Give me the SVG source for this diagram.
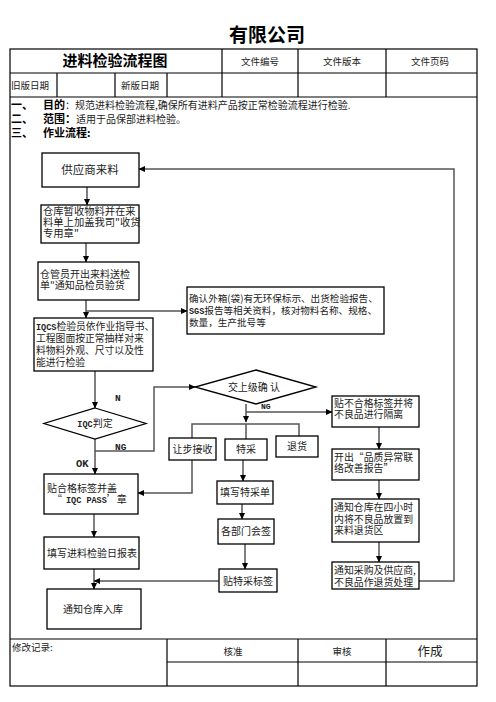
<svg xmlns="http://www.w3.org/2000/svg" width="496" height="702" viewBox="0 0 496 702">
<style>
.t{font-family:"Noto Sans CJK SC","Noto Sans",sans-serif;fill:#222}
.m{font-family:"Liberation Mono","Noto Sans CJK SC",monospace;font-weight:bold}
.b{font-weight:bold;fill:#000}
.c{text-anchor:middle}
.box{fill:#fff;stroke:#000;stroke-width:1.3}
.grid{fill:none;stroke:#000;stroke-width:1.2}
.ln{fill:none;stroke:#555;stroke-width:1.5}
</style>
<defs>
<marker id="ar" markerUnits="userSpaceOnUse" markerWidth="7" markerHeight="7" refX="6" refY="3.5" orient="auto">
<path d="M0,0.5 L6.5,3.5 L0,6.5 Z" fill="#000"/>
</marker>
</defs>
<rect width="496" height="702" fill="#fff"/>
<g id="header">
<text class="t b c" x="267" y="42" font-size="19">有限公司</text>
<rect class="grid" x="10" y="49" width="467" height="637"/>
<path class="grid" d="M10,73 H477 M10,97 H477 M222,49 V97 M298,49 V97 M386,49 V97 M57,73 V97 M115,73 V97 M167,73 V97"/>
<text class="t b c" x="115" y="66" font-size="15">进料检验流程图</text>
<text class="t c" x="260" y="65" font-size="9.5">文件编号</text>
<text class="t c" x="342" y="65" font-size="9.5">文件版本</text>
<text class="t c" x="430" y="65" font-size="9.5">文件页码</text>
<text class="t" x="11" y="89" font-size="9.5">旧版日期</text>
<text class="t" x="121" y="89" font-size="9.5">新版日期</text>
<text class="t b" x="11" y="109" font-size="11">一、</text>
<text class="t" x="43" y="109" font-size="10"><tspan class="b" font-size="11">目的</tspan><tspan>：规范进料检验流程,确保所有进料产品按正常检验流程进行检验.</tspan></text>
<text class="t b" x="11" y="123" font-size="11">二、</text>
<text class="t" x="43" y="123" font-size="10"><tspan class="b" font-size="11">范围：</tspan><tspan>适用于品保部进料检验。</tspan></text>
<text class="t b" x="11" y="137" font-size="11">三、</text>
<text class="t b" x="43" y="137" font-size="11">作业流程:</text>
</g>
<g id="footer">
<path class="grid" d="M10,639 H477 M167,662 H477 M167,639 V686 M298,639 V686 M386,639 V686"/>
<text class="t" x="12" y="651" font-size="9.5">修改记录:</text>
<text class="t c" x="233" y="655" font-size="9.5">核准</text>
<text class="t c" x="342" y="655" font-size="9.5">审核</text>
<text class="t c" x="430" y="656" font-size="12.5">作成</text>
</g>
<g id="connectors">
<path class="ln" d="M87,187 V205" marker-end="url(#ar)"/>
<path class="ln" d="M86,243 V262" marker-end="url(#ar)"/>
<path class="ln" d="M86,300 V318" marker-end="url(#ar)"/>
<path class="ln" d="M86,311 H187" marker-end="url(#ar)"/>
<path class="ln" d="M95,371 V408" marker-end="url(#ar)"/>
<path class="ln" d="M95,451 H154 V387 H195" marker-end="url(#ar)"/>
<path class="ln" d="M95,439 V474" marker-end="url(#ar)"/>
<path class="ln" d="M246,404 V422" marker-end="url(#ar)"/>
<path class="ln" d="M192,438 V424 H299 V436 M246,424 V439" stroke="#222" stroke-width="1.2"/>
<path class="ln" d="M246,412 H332" marker-end="url(#ar)"/>
<path class="ln" d="M192,460 V493 H138" stroke="#222" stroke-width="1.2" marker-end="url(#ar)"/>
<path class="ln" d="M243,460 V481" marker-end="url(#ar)"/>
<path class="ln" d="M94,514 V537" marker-end="url(#ar)"/>
<path class="ln" d="M242,504 V519" marker-end="url(#ar)"/>
<path class="ln" d="M245,544 V569" marker-end="url(#ar)"/>
<path class="ln" d="M94,569 V589" marker-end="url(#ar)"/>
<path class="ln" d="M219,581 H94" marker-end="url(#ar)"/>
<path class="ln" d="M379,427 V449" marker-end="url(#ar)"/>
<path class="ln" d="M379,480 V499" marker-end="url(#ar)"/>
<path class="ln" d="M379,542 V562" marker-end="url(#ar)"/>
<path class="ln" d="M419,581 H454 V169 H139" stroke="#222" stroke-width="1.2" marker-end="url(#ar)"/>
<text class="t m" x="115" y="401" font-size="9.5">N</text>
<text class="t m" x="115" y="450" font-size="9.5">NG</text>
<text class="t m" x="76" y="467" font-size="10.5">OK</text>
<text class="t m" x="261" y="409" font-size="8">NG</text>
</g>
<g id="n1"><rect class="box" x="42" y="153" width="97" height="34"/><text class="t c" x="90" y="174" font-size="11.5">供应商来料</text></g>
<g id="n2"><rect class="box" x="41" y="205" width="98" height="38"/><text class="t" font-size="10.3"><tspan x="43" y="215">仓库暂收物料并在来</tspan><tspan x="43" dy="11">料单上加盖我司"收货</tspan><tspan x="43" dy="11">专用章"</tspan></text></g>
<g id="n3"><rect class="box" x="38" y="262" width="101" height="38"/><text class="t" font-size="10"><tspan x="40" y="278">仓管员开出来料送检</tspan><tspan x="40" dy="11">单"通知品检员验货</tspan></text></g>
<g id="n4"><rect class="box" x="187" y="287" width="197" height="47"/><text class="t" font-size="9.6"><tspan x="189" y="302">确认外箱(袋)有无环保标示、出货检验报告、</tspan><tspan x="189" dy="12" class="m" font-size="8.5">SGS</tspan><tspan>报告等相关资料，核对物料名称、规格、</tspan><tspan x="189" dy="12">数量，生产批号等</tspan></text></g>
<g id="n5"><rect class="box" x="34" y="318" width="119" height="53"/><text class="t" font-size="9.8"><tspan x="36" y="330" class="m" font-size="8.5">IQCS</tspan><tspan>检验员依作业指导书、</tspan><tspan x="36" dy="12">工程图面按正常抽样对来</tspan><tspan x="36" dy="12">料物料外观、尺寸以及性</tspan><tspan x="36" dy="12">能进行检验</tspan></text></g>
<g id="n6"><path class="box" d="M95,408 L146,423.5 L95,439 L44,423.5 Z"/><text class="t c" x="95" y="427" font-size="10"><tspan class="m" font-size="8.5">IQC</tspan><tspan>判定</tspan></text></g>
<g id="n7"><path class="box" d="M256,370 L316,387 L256,404 L195,387 Z"/><text class="t c" x="254" y="390.5" font-size="10">交上级确  认</text></g>
<g id="n8"><rect class="box" x="169" y="438" width="47" height="22"/><text class="t c" x="192.5" y="452.5" font-size="10">让步接收</text></g>
<g id="n9"><rect class="box" x="225" y="439" width="42" height="21"/><text class="t c" x="246" y="453" font-size="10">特采</text></g>
<g id="n10"><rect class="box" x="276" y="436" width="42" height="21"/><text class="t c" x="297" y="450" font-size="10">退货</text></g>
<g id="n11"><rect class="box" x="332" y="396" width="87" height="31"/><text class="t" font-size="9.9"><tspan x="334" y="407">贴不合格标签并将</tspan><tspan x="334" dy="11">不良品进行隔离</tspan></text></g>
<g id="n12"><rect class="box" x="332" y="449" width="87" height="31"/><text class="t" font-size="9.9"><tspan x="334" y="461">开出“品质异常联</tspan><tspan x="334" dy="11">络改善报告”</tspan></text></g>
<g id="n13"><rect class="box" x="332" y="499" width="87" height="43"/><text class="t" font-size="9.9"><tspan x="334" y="511">通知仓库在四小时</tspan><tspan x="334" dy="11.5">内将不良品放置到</tspan><tspan x="334" dy="11.5">来料退货区</tspan></text></g>
<g id="n14"><rect class="box" x="332" y="562" width="87" height="27"/><text class="t" font-size="9.9"><tspan x="334" y="574">通知采购及供应商,</tspan><tspan x="334" dy="12">不良品作退货处理</tspan></text></g>
<g id="n15"><rect class="box" x="44" y="474" width="94" height="40"/><text class="t" font-size="10"><tspan x="47" y="492">贴合格标签并盖</tspan><tspan x="52" dy="11">“</tspan><tspan x="66" class="m" font-size="8.5">IQC PASS</tspan><tspan>’章</tspan></text></g>
<g id="n16"><rect class="box" x="217" y="481" width="56" height="23"/><text class="t c" x="245" y="496" font-size="10">填写特采单</text></g>
<g id="n17"><rect class="box" x="44" y="537" width="95" height="32"/><text class="t c" x="92" y="557" font-size="10">填写进料检验日报表</text></g>
<g id="n18"><rect class="box" x="218" y="519" width="56" height="25"/><text class="t c" x="246" y="535" font-size="10">各部门会签</text></g>
<g id="n19"><rect class="box" x="219" y="569" width="58" height="23"/><text class="t c" x="248" y="584.5" font-size="10">贴特采标签</text></g>
<g id="n20"><rect class="box" x="47" y="589" width="94" height="40"/><text class="t c" x="93" y="612.5" font-size="10">通知仓库入库</text></g>
</svg>
